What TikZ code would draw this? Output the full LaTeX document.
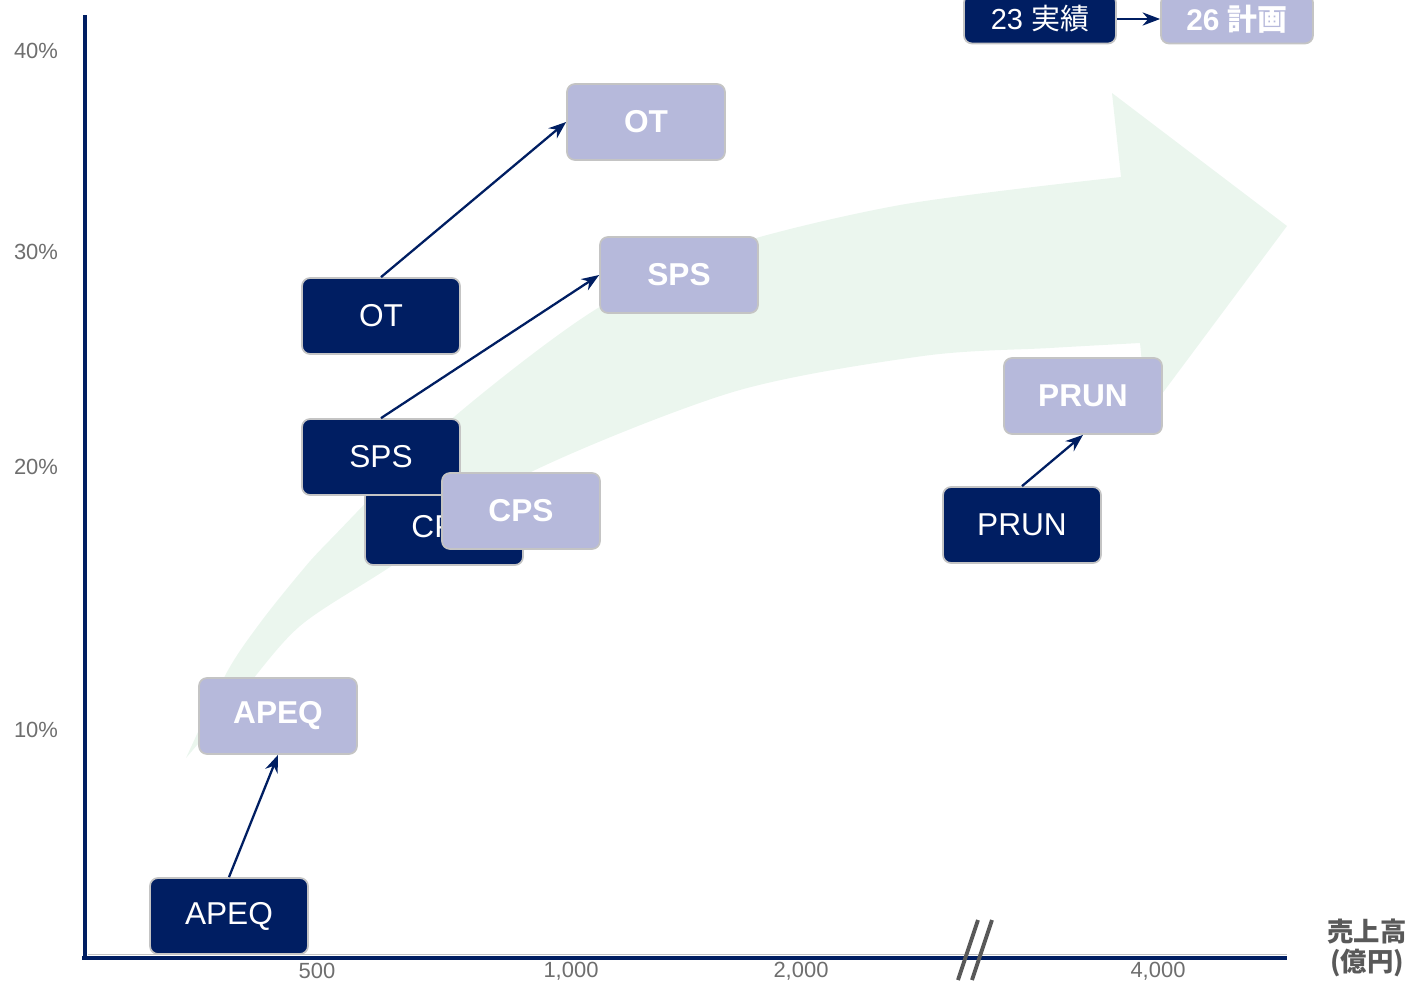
\documentclass[tikz,border=0pt]{standalone}
\usepackage{fontspec}
\setmainfont{Liberation Sans}
\newfontfamily\jpfont{Noto Sans CJK JP}
\usetikzlibrary{arrows.meta}
\definecolor{navy}{HTML}{001E62}
\definecolor{plancol}{HTML}{B6B9DB}
\definecolor{boxline}{HTML}{C4C4C4}
\definecolor{trendgreen}{HTML}{EBF6EE}
\definecolor{tickgray}{HTML}{6E6E6E}
\definecolor{unitgray}{HTML}{595959}

\begin{document}
\begin{tikzpicture}[x=0.02cm,y=-0.02cm]
    \tikzstyle{actual}=[draw=boxline,line width=1pt,fill=navy,text=white,rounded corners=0.16cm,minimum width=3.16cm,minimum height=1.52cm,inner sep=0pt,font=\fontsize{18}{20}\selectfont]
    \tikzstyle{plan}=[actual,fill=plancol,font=\fontsize{18}{20}\selectfont\bfseries]
    \tikzstyle{key}=[minimum width=3.04cm,minimum height=0.98cm,font=\fontsize{16.5}{18}\selectfont]
    \tikzstyle{tick}=[text=tickgray,font=\fontsize{12.5}{14}\selectfont]
    \tikzstyle{growth}=[-{Stealth[length=10pt,width=7.5pt]},navy,line width=1.3pt]
    \useasboundingbox (0,0) rectangle (1411,981);

    % big trend arrow in the back
    \fill[trendgreen] plot[smooth] coordinates {(186,758) (227,672) (260,623) (300,573) (330,540) (447,423) (590,313) (717,250) (900,205) (1121,177)}
      -- (1112,93) -- (1287,226) -- (1147,414) -- (1140,343)
      -- plot[smooth] coordinates {(1140,343) (1050,348) (923,356) (733,392) (523,476) (393,565) (300,626) (240,695) (186,758)}
      -- cycle;

    % axes
    \draw[navy,line width=2.8pt] (85,15) -- (85,960);
    \draw[boxline,line width=0.6pt] (88,954.5) -- (1287,954.5);
    \draw[navy,line width=2.8pt] (82,958) -- (1287,958);
    \draw[unitgray,line width=2.2pt] (978,920) -- (958,980);
    \draw[unitgray,line width=2.2pt] (992,920) -- (972,980);

    \node[tick] (y40) at (36,51) {40\%};
    \node[tick] (y30) at (36,252) {30\%};
    \node[tick] (y20) at (36,467) {20\%};
    \node[tick] (y10) at (36,730) {10\%};
    \node[tick] (x500) at (317,971) {500};
    \node[tick] (x1000) at (571,971) {1,000};
    \node[tick] (x2000) at (801,971) {2,000};
    \node[tick] (x4000) at (1158,971) {4,000};
    \node[text=unitgray,font=\jpfont\fontsize{15}{17}\selectfont\bfseries,align=center] (unit) at (1367,948) {売上高\\(億円)};

    % actual (23) and plan (26)
    \node[actual] (cpsA) at (444,527) {CPS};
    \node[actual] (otA) at (381,316) {OT};
    \node[actual] (spsA) at (381,457) {SPS};
    \node[actual] (apeqA) at (229,916) {APEQ};
    \node[actual] (prunA) at (1022,525) {PRUN};

    \node[plan] (otP) at (646,122) {OT};
    \node[plan] (spsP) at (679,275) {SPS};
    \node[plan] (cpsP) at (521,511) {CPS};
    \node[plan] (apeqP) at (278,716) {APEQ};
    \node[plan] (prunP) at (1083,396) {PRUN};

    \draw[growth] (otA.north) -- (otP.west);
    \draw[growth] (spsA.north) -- (spsP.west);
    \draw[growth] (apeqA.north) -- (apeqP.south);
    \draw[growth] (prunA.north) -- (prunP.south);

    % legend
    \node[actual,key] (keyA) at (1040,19) {23 {\jpfont 実績}};
    \node[plan,key,font=\fontsize{17}{19}\selectfont\bfseries] (keyP) at (1237,19) {26 {\jpfont\bfseries 計画}};
    \draw[growth] (keyA.east) -- (keyP.west);
\end{tikzpicture}
\end{document}
